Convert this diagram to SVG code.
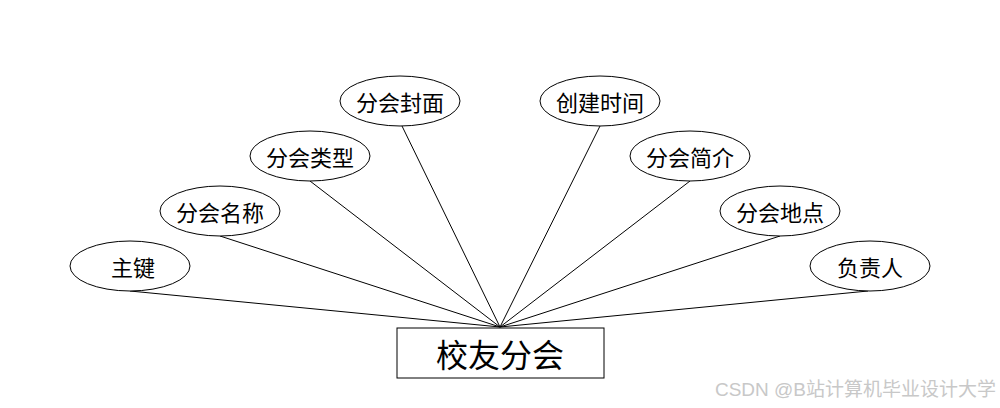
<svg xmlns="http://www.w3.org/2000/svg" width="1000" height="408" viewBox="0 0 1000 408">
<style>
.attr ellipse{fill:#fff;stroke:#000;stroke-width:1}
.attr text{font-family:"Noto Sans CJK SC",sans-serif;font-size:22px;text-anchor:middle;dominant-baseline:central;fill:#000}
.conn line{stroke:#000;stroke-width:1}
.ent rect{fill:#fff;stroke:#000;stroke-width:1}
.ent text{font-family:"Noto Sans CJK SC",sans-serif;font-size:32px;text-anchor:middle;dominant-baseline:central;fill:#000}
.wm{font-family:"Liberation Sans","Noto Sans CJK SC",sans-serif;font-size:19px;fill:#c8c8c8}
</style>
<rect width="1000" height="408" fill="#fff"/>
<g id="connectors" class="conn">
<line x1="130" y1="291" x2="500" y2="327"/>
<line x1="220" y1="236" x2="500" y2="327"/>
<line x1="310" y1="181" x2="500" y2="327"/>
<line x1="402" y1="126" x2="500" y2="327"/>
<line x1="600" y1="126" x2="500" y2="327"/>
<line x1="690" y1="181" x2="500" y2="327"/>
<line x1="780" y1="236" x2="500" y2="327"/>
<line x1="868" y1="291" x2="500" y2="327"/>
</g>
<g id="n-zhujian" class="attr"><ellipse cx="130" cy="266" rx="60" ry="25"/><text x="133" y="266">主键</text></g>
<g id="n-mingcheng" class="attr"><ellipse cx="220" cy="211" rx="60" ry="25"/><text x="220" y="211">分会名称</text></g>
<g id="n-leixing" class="attr"><ellipse cx="310" cy="156" rx="60" ry="25"/><text x="310" y="156">分会类型</text></g>
<g id="n-fengmian" class="attr"><ellipse cx="400" cy="101" rx="60" ry="25"/><text x="400" y="101">分会封面</text></g>
<g id="n-shijian" class="attr"><ellipse cx="600" cy="101" rx="60" ry="25"/><text x="600" y="101">创建时间</text></g>
<g id="n-jianjie" class="attr"><ellipse cx="690" cy="156" rx="60" ry="25"/><text x="690" y="156">分会简介</text></g>
<g id="n-didian" class="attr"><ellipse cx="780" cy="211" rx="60" ry="25"/><text x="780" y="211">分会地点</text></g>
<g id="n-fuzeren" class="attr"><ellipse cx="870" cy="266" rx="60" ry="25"/><text x="870" y="266">负责人</text></g>
<g id="n-entity" class="ent"><rect x="397" y="328" width="207" height="50"/><text x="500" y="353">校友分会</text></g>
<text class="wm" x="996" y="396" text-anchor="end">CSDN @B站计算机毕业设计大学</text>
</svg>
